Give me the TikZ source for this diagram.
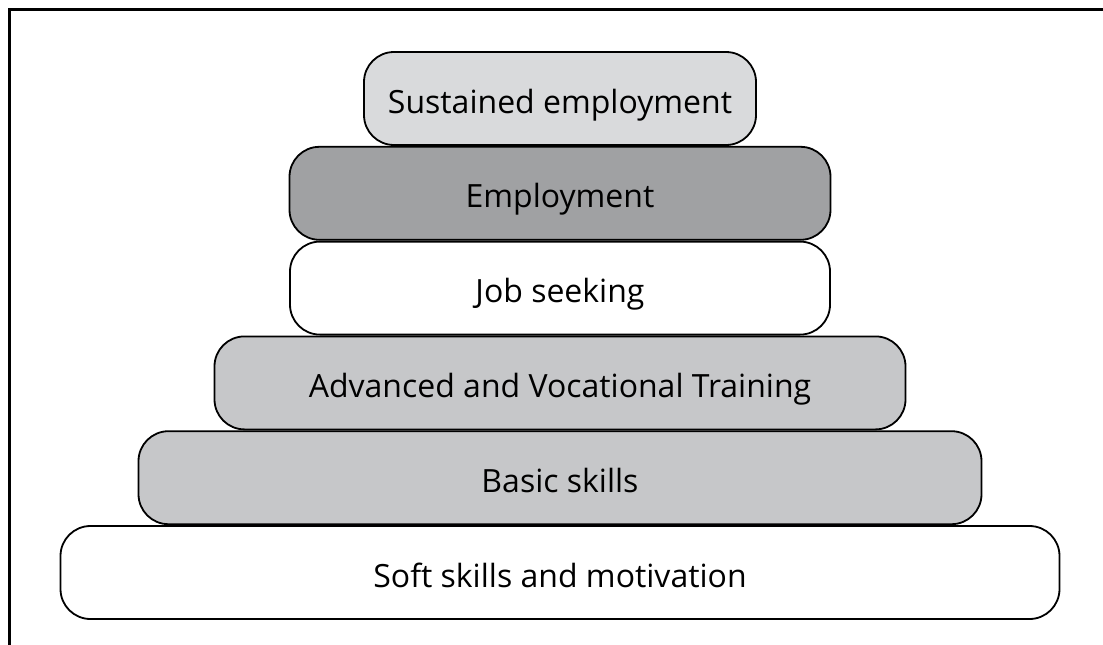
\documentclass[tikz,border=0pt]{standalone}
\usepackage{fontspec}
\setmainfont{Open Sans}
\usetikzlibrary{positioning}

\definecolor{topgrey}{HTML}{D9DADC}
\definecolor{darkgrey}{HTML}{A0A1A3}
\definecolor{midgrey}{HTML}{C6C7C9}

\begin{document}
\begin{tikzpicture}[x=1pt,y=-1pt,
    tier/.style={draw=black,line width=1.8pt,rounded corners=30pt,
        minimum height=93pt,inner sep=0pt,node distance=0pt,
        text height=29pt,text depth=0pt,
        font=\fontsize{32}{38}\selectfont}]
    \useasboundingbox (0,0) rectangle (1103,645);

    % frame, open at the right and at the bottom
    \draw[line width=3pt] (1103,9.5) -- (9.5,9.5) -- (9.5,645);

    % the stack, from the bottom up
    \node[tier,fill=white,minimum width=999pt] (soft) at (560,572.5) {Soft skills and motivation};
    \node[tier,fill=midgrey,minimum width=843pt,above=of soft] (basic) {Basic skills};
    \node[tier,fill=midgrey,minimum width=691pt,above=of basic] (advanced) {Advanced and Vocational Training};
    \node[tier,fill=white,minimum width=540pt,above=of advanced] (jobseek) {Job seeking};
    \node[tier,fill=darkgrey,minimum width=541pt,above=of jobseek] (employ) {Employment};
    \node[tier,fill=topgrey,minimum width=392pt,above=of employ] (sustain) {Sustained employment};
\end{tikzpicture}
\end{document}
